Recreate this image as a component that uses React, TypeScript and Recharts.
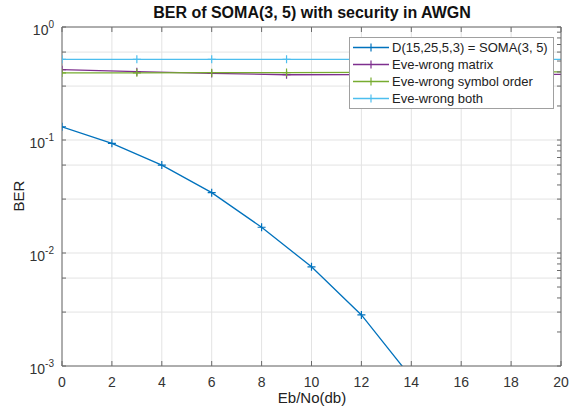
import React from "react";
import { CartesianGrid, Legend, Line, LineChart, XAxis, YAxis } from "recharts";

const FONT = '"Liberation Sans", Arial, Helvetica, sans-serif';

const snrSoma = [0, 2, 4, 6, 8, 10, 12, 14];
const berSoma = [0.131, 0.0935, 0.06, 0.0342, 0.0169, 0.00755, 0.00283, 0.00079];

const snrEve = [0, 3, 6, 9, 12, 15, 18, 21];
const berWrongMatrix = [0.419, 0.402, 0.388, 0.378, 0.379, 0.38, 0.38, 0.381];
const berWrongOrder = [0.392, 0.393, 0.394, 0.395, 0.397, 0.398, 0.4, 0.401];
const berWrongBoth = [0.518, 0.518, 0.518, 0.518, 0.518, 0.518, 0.518, 0.518];

const xTicks = [0, 2, 4, 6, 8, 10, 12, 14, 16, 18, 20];
const yTicks = [
  0.001, 0.002, 0.003, 0.004, 0.005, 0.006, 0.007, 0.008, 0.009,
  0.01, 0.02, 0.03, 0.04, 0.05, 0.06, 0.07, 0.08, 0.09,
  0.1, 0.2, 0.3, 0.4, 0.5, 0.6, 0.7, 0.8, 0.9, 1,
];

const seriesNames = [
  "D(15,25,5,3) = SOMA(3, 5)",
  "Eve-wrong matrix",
  "Eve-wrong symbol order",
  "Eve-wrong both",
];
const seriesColors = ["#0072BD", "#7E2F8E", "#77AC30", "#4DBEEE"];

const toRows = (xs: number[], ys: number[]) => xs.map((x, i) => ({ x, ber: ys[i] }));

const somaRows = toRows(snrSoma, berSoma);
const matrixRows = toRows(snrEve, berWrongMatrix);
const orderRows = toRows(snrEve, berWrongOrder);
const bothRows = toRows(snrEve, berWrongBoth);

function plusDot(props: any) {
  const { cx, cy, stroke, key } = props;
  if (cx == null || cy == null) return <g key={key} />;
  return (
    <path
      key={key}
      d={`M${cx - 4},${cy}H${cx + 4}M${cx},${cy - 4}V${cy + 4}`}
      stroke={stroke}
      strokeWidth={1.2}
      fill="none"
    />
  );
}

function renderYTick(props: any) {
  const { x, y, payload } = props;
  const lg = Math.log10(payload.value);
  const e = Math.round(lg);
  if (Math.abs(lg - e) > 1e-6) return <g />;
  return (
    <text x={x} y={y + 8} textAnchor="end" fill="#333" fontSize={14} fontFamily={FONT}>
      <tspan>10</tspan>
      <tspan dy={-7} fontSize={10}>
        {e}
      </tspan>
    </text>
  );
}

function LegendBox() {
  return (
    <div
      style={{
        background: "#fff",
        border: "1px solid #a0a0a0",
        padding: "1px 5px 1px 3px",
        fontFamily: FONT,
        fontSize: 13,
        color: "#222",
      }}
    >
      {seriesNames.map((name, i) => (
        <div key={name} style={{ display: "flex", alignItems: "center", height: 17 }}>
          <svg width={36} height={17} style={{ flex: "none" }}>
            <line x1={0} x2={36} y1={8.5} y2={8.5} stroke={seriesColors[i]} strokeWidth={1.3} />
            <line x1={18} x2={18} y1={4.5} y2={12.5} stroke={seriesColors[i]} strokeWidth={1.2} />
          </svg>
          <span style={{ marginLeft: 3, whiteSpace: "nowrap" }}>{name}</span>
        </div>
      ))}
    </div>
  );
}

export default function App() {
  return (
    <div
      style={{
        position: "absolute",
        left: 0,
        top: 0,
        width: 578,
        height: 409,
        background: "#fff",
        fontFamily: FONT,
      }}
    >
      <LineChart width={578} height={409} margin={{ top: 26, right: 16, bottom: 13, left: 12 }}>
        <CartesianGrid xAxisId="b" yAxisId="l" stroke="#e3e3e3" strokeWidth={1} />
        <XAxis
          xAxisId="b"
          type="number"
          dataKey="x"
          domain={[0, 20]}
          ticks={xTicks}
          allowDataOverflow
          height={30}
          stroke="#6a6a6a"
          tickSize={-5}
          tickMargin={16}
          tick={{ fill: "#333", fontSize: 14, fontFamily: FONT }}
        />
        <XAxis
          xAxisId="t"
          orientation="top"
          type="number"
          dataKey="x"
          domain={[0, 20]}
          ticks={xTicks}
          allowDataOverflow
          height={1}
          stroke="#6a6a6a"
          tickSize={-5}
          tickFormatter={() => ""}
        />
        <YAxis
          yAxisId="l"
          scale="log"
          type="number"
          domain={[0.001, 1]}
          ticks={yTicks}
          allowDataOverflow
          width={50}
          stroke="#6a6a6a"
          tickSize={-4}
          tickMargin={12}
          tick={renderYTick}
        />
        <YAxis
          yAxisId="r"
          orientation="right"
          scale="log"
          type="number"
          domain={[0.001, 1]}
          ticks={yTicks}
          allowDataOverflow
          width={1}
          stroke="#6a6a6a"
          tickSize={-4}
          tickFormatter={() => ""}
        />
        <Line
          xAxisId="b"
          yAxisId="l"
          data={somaRows}
          dataKey="ber"
          type="linear"
          stroke={seriesColors[0]}
          strokeWidth={1.3}
          dot={plusDot}
          isAnimationActive={false}
        />
        <Line
          xAxisId="b"
          yAxisId="l"
          data={matrixRows}
          dataKey="ber"
          type="linear"
          stroke={seriesColors[1]}
          strokeWidth={1.3}
          dot={plusDot}
          isAnimationActive={false}
        />
        <Line
          xAxisId="b"
          yAxisId="l"
          data={orderRows}
          dataKey="ber"
          type="linear"
          stroke={seriesColors[2]}
          strokeWidth={1.3}
          dot={plusDot}
          isAnimationActive={false}
        />
        <Line
          xAxisId="b"
          yAxisId="l"
          data={bothRows}
          dataKey="ber"
          type="linear"
          stroke={seriesColors[3]}
          strokeWidth={1.3}
          dot={plusDot}
          isAnimationActive={false}
        />
        <Legend
          layout="vertical"
          align="center"
          verticalAlign="middle"
          content={() => <LegendBox />}
          wrapperStyle={{ position: "absolute", left: 349, top: 37, width: "auto", height: "auto" }}
        />
      </LineChart>
      <div
        style={{
          position: "absolute",
          left: 62,
          width: 500,
          top: 4,
          textAlign: "center",
          fontWeight: "bold",
          fontSize: 16,
          color: "#111",
        }}
      >
        BER of SOMA(3, 5) with security in AWGN
      </div>
      <div
        style={{
          position: "absolute",
          left: 62,
          width: 500,
          top: 389,
          textAlign: "center",
          fontSize: 15,
          color: "#222",
        }}
      >
        Eb/No(db)
      </div>
      <div
        style={{
          position: "absolute",
          left: 18,
          top: 196,
          transform: "translate(-50%, -50%) rotate(-90deg)",
          fontSize: 15,
          color: "#222",
        }}
      >
        BER
      </div>
    </div>
  );
}
